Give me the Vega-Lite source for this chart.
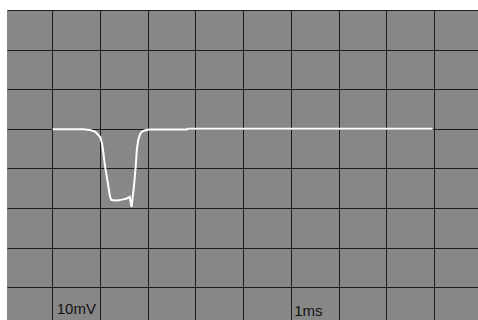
{
  "$schema": "https://vega.github.io/schema/vega-lite/v6.json",
  "autosize": "none",
  "width": 471,
  "height": 310,
  "padding": {"left": 7, "top": 10, "right": 0, "bottom": 0},
  "background": "white",
  "config": {
    "view": {"fill": "#878787", "stroke": null},
    "axis": {"grid": true, "gridColor": "#1c1c1c", "gridOpacity": 1, "gridWidth": 1, "labels": false, "ticks": false, "domain": false, "title": null}
  },
  "datasets": {
    "trace": [
      {"t": 1.008, "v": 9.9},
      {"t": 1.37, "v": 9.9},
      {"t": 1.643, "v": 9.87},
      {"t": 1.789, "v": 9.7},
      {"t": 1.894, "v": 9.3},
      {"t": 2.0, "v": 8.0},
      {"t": 2.04, "v": 6.4},
      {"t": 2.07, "v": 3.9},
      {"t": 2.1, "v": 0.85},
      {"t": 2.14, "v": -2.1},
      {"t": 2.18, "v": -5.0},
      {"t": 2.21, "v": -7.2},
      {"t": 2.24, "v": -8.0},
      {"t": 2.35, "v": -8.1},
      {"t": 2.46, "v": -7.9},
      {"t": 2.56, "v": -7.6},
      {"t": 2.62, "v": -7.2},
      {"t": 2.66, "v": -9.7},
      {"t": 2.71, "v": -4.6},
      {"t": 2.75, "v": 0.85},
      {"t": 2.77, "v": 4.6},
      {"t": 2.8, "v": 7.2},
      {"t": 2.84, "v": 8.7},
      {"t": 2.88, "v": 9.3},
      {"t": 2.96, "v": 9.7},
      {"t": 3.05, "v": 9.8},
      {"t": 3.82, "v": 9.8},
      {"t": 3.84, "v": 10.0},
      {"t": 8.97, "v": 10.0}
    ],
    "labels": [
      {"t": 1.092, "v": -36.8, "text": "10mV"},
      {"t": 6.07, "v": -37.3, "text": "1ms"}
    ]
  },
  "layer": [
    {
      "data": {"name": "trace"},
      "mark": {"type": "line", "color": "white", "strokeWidth": 2, "interpolate": "linear"},
      "encoding": {
        "x": {"field": "t", "type": "quantitative", "scale": {"domain": [0.05, 9.92], "nice": false, "zero": false}, "axis": {"values": [1, 2, 3, 4, 5, 6, 7, 8, 9]}},
        "y": {"field": "v", "type": "quantitative", "scale": {"domain": [-38.3, 40], "nice": false, "zero": false}, "axis": {"values": [-30, -20, -10, 0, 10, 20, 30, 40]}}
      }
    },
    {
      "data": {"name": "labels"},
      "mark": {"type": "text", "font": "Liberation Sans", "fontSize": 15, "align": "left", "baseline": "alphabetic", "color": "#111111"},
      "encoding": {
        "x": {"field": "t", "type": "quantitative"},
        "y": {"field": "v", "type": "quantitative"},
        "text": {"field": "text"}
      }
    }
  ]
}
